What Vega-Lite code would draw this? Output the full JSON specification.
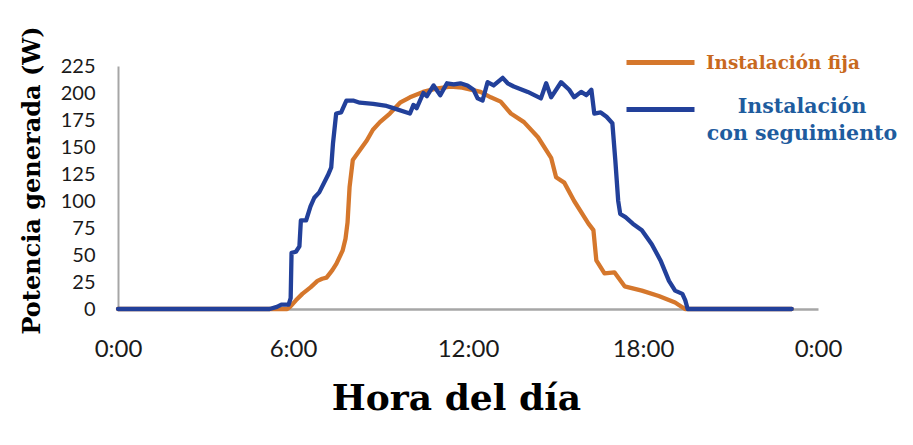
{
  "$schema": "https://vega.github.io/schema/vega-lite/v6.json",
  "width": 700,
  "height": 243,
  "autosize": {"type": "none"},
  "padding": {"left": 118, "top": 66, "right": 95, "bottom": 136},
  "background": "white",
  "config": {"view": {"stroke": null}},
  "data": {"values": [
    {"h": 0, "w": 0, "s": "Instalación fija"},
    {"h": 5.8, "w": 0, "s": "Instalación fija"},
    {"h": 5.9, "w": 2, "s": "Instalación fija"},
    {"h": 6.1, "w": 8, "s": "Instalación fija"},
    {"h": 6.32, "w": 14, "s": "Instalación fija"},
    {"h": 6.6, "w": 20, "s": "Instalación fija"},
    {"h": 6.84, "w": 26, "s": "Instalación fija"},
    {"h": 7.0, "w": 28, "s": "Instalación fija"},
    {"h": 7.15, "w": 29, "s": "Instalación fija"},
    {"h": 7.35, "w": 36, "s": "Instalación fija"},
    {"h": 7.49, "w": 42, "s": "Instalación fija"},
    {"h": 7.7, "w": 54, "s": "Instalación fija"},
    {"h": 7.8, "w": 65, "s": "Instalación fija"},
    {"h": 7.87, "w": 80, "s": "Instalación fija"},
    {"h": 7.94, "w": 113, "s": "Instalación fija"},
    {"h": 8.05, "w": 138, "s": "Instalación fija"},
    {"h": 8.29, "w": 147, "s": "Instalación fija"},
    {"h": 8.53, "w": 156, "s": "Instalación fija"},
    {"h": 8.74, "w": 166, "s": "Instalación fija"},
    {"h": 8.98, "w": 173, "s": "Instalación fija"},
    {"h": 9.32, "w": 181, "s": "Instalación fija"},
    {"h": 9.67, "w": 191, "s": "Instalación fija"},
    {"h": 10.01, "w": 196, "s": "Instalación fija"},
    {"h": 10.46, "w": 201, "s": "Instalación fija"},
    {"h": 10.9, "w": 204, "s": "Instalación fija"},
    {"h": 11.4, "w": 206, "s": "Instalación fija"},
    {"h": 11.8, "w": 205, "s": "Instalación fija"},
    {"h": 12.43, "w": 201, "s": "Instalación fija"},
    {"h": 12.78, "w": 196, "s": "Instalación fija"},
    {"h": 13.12, "w": 192, "s": "Instalación fija"},
    {"h": 13.47, "w": 181, "s": "Instalación fija"},
    {"h": 13.92, "w": 173, "s": "Instalación fija"},
    {"h": 14.4, "w": 159, "s": "Instalación fija"},
    {"h": 14.85, "w": 140, "s": "Instalación fija"},
    {"h": 15.02, "w": 122, "s": "Instalación fija"},
    {"h": 15.3, "w": 117, "s": "Instalación fija"},
    {"h": 15.64, "w": 100, "s": "Instalación fija"},
    {"h": 16.13, "w": 79, "s": "Instalación fija"},
    {"h": 16.3, "w": 73, "s": "Instalación fija"},
    {"h": 16.4, "w": 45, "s": "Instalación fija"},
    {"h": 16.68, "w": 33, "s": "Instalación fija"},
    {"h": 17.02, "w": 34, "s": "Instalación fija"},
    {"h": 17.37, "w": 21, "s": "Instalación fija"},
    {"h": 17.96, "w": 17, "s": "Instalación fija"},
    {"h": 18.54, "w": 12, "s": "Instalación fija"},
    {"h": 19.1, "w": 6, "s": "Instalación fija"},
    {"h": 19.44, "w": 0, "s": "Instalación fija"},
    {"h": 23.1, "w": 0, "s": "Instalación fija"},
    {"h": 0, "w": 0, "s": "Instalación con seguimiento"},
    {"h": 5.2, "w": 0, "s": "Instalación con seguimiento"},
    {"h": 5.45, "w": 2, "s": "Instalación con seguimiento"},
    {"h": 5.6, "w": 4, "s": "Instalación con seguimiento"},
    {"h": 5.85, "w": 4, "s": "Instalación con seguimiento"},
    {"h": 5.92, "w": 10, "s": "Instalación con seguimiento"},
    {"h": 5.95, "w": 52, "s": "Instalación con seguimiento"},
    {"h": 6.1, "w": 53, "s": "Instalación con seguimiento"},
    {"h": 6.22, "w": 58, "s": "Instalación con seguimiento"},
    {"h": 6.27, "w": 82, "s": "Instalación con seguimiento"},
    {"h": 6.45, "w": 82, "s": "Instalación con seguimiento"},
    {"h": 6.6, "w": 95, "s": "Instalación con seguimiento"},
    {"h": 6.73, "w": 103, "s": "Instalación con seguimiento"},
    {"h": 6.9, "w": 108, "s": "Instalación con seguimiento"},
    {"h": 7.2, "w": 124, "s": "Instalación con seguimiento"},
    {"h": 7.31, "w": 131, "s": "Instalación con seguimiento"},
    {"h": 7.37, "w": 153, "s": "Instalación con seguimiento"},
    {"h": 7.48, "w": 181, "s": "Instalación con seguimiento"},
    {"h": 7.65, "w": 182, "s": "Instalación con seguimiento"},
    {"h": 7.83, "w": 193, "s": "Instalación con seguimiento"},
    {"h": 8.06, "w": 193, "s": "Instalación con seguimiento"},
    {"h": 8.29, "w": 191, "s": "Instalación con seguimiento"},
    {"h": 8.75, "w": 190, "s": "Instalación con seguimiento"},
    {"h": 9.21, "w": 188, "s": "Instalación con seguimiento"},
    {"h": 9.44, "w": 186, "s": "Instalación con seguimiento"},
    {"h": 9.9, "w": 182, "s": "Instalación con seguimiento"},
    {"h": 10.01, "w": 181, "s": "Instalación con seguimiento"},
    {"h": 10.13, "w": 189, "s": "Instalación con seguimiento"},
    {"h": 10.24, "w": 186, "s": "Instalación con seguimiento"},
    {"h": 10.47, "w": 200, "s": "Instalación con seguimiento"},
    {"h": 10.59, "w": 197, "s": "Instalación con seguimiento"},
    {"h": 10.82, "w": 207, "s": "Instalación con seguimiento"},
    {"h": 11.05, "w": 198, "s": "Instalación con seguimiento"},
    {"h": 11.28, "w": 209, "s": "Instalación con seguimiento"},
    {"h": 11.51, "w": 208, "s": "Instalación con seguimiento"},
    {"h": 11.74, "w": 209, "s": "Instalación con seguimiento"},
    {"h": 11.98, "w": 207, "s": "Instalación con seguimiento"},
    {"h": 12.19, "w": 203, "s": "Instalación con seguimiento"},
    {"h": 12.33, "w": 195, "s": "Instalación con seguimiento"},
    {"h": 12.5, "w": 193, "s": "Instalación con seguimiento"},
    {"h": 12.67, "w": 210, "s": "Instalación con seguimiento"},
    {"h": 12.88, "w": 207, "s": "Instalación con seguimiento"},
    {"h": 13.19, "w": 214, "s": "Instalación con seguimiento"},
    {"h": 13.36, "w": 209, "s": "Instalación con seguimiento"},
    {"h": 13.57, "w": 206, "s": "Instalación con seguimiento"},
    {"h": 14.05, "w": 201, "s": "Instalación con seguimiento"},
    {"h": 14.5, "w": 195, "s": "Instalación con seguimiento"},
    {"h": 14.68, "w": 209, "s": "Instalación con seguimiento"},
    {"h": 14.85, "w": 196, "s": "Instalación con seguimiento"},
    {"h": 15.19, "w": 210, "s": "Instalación con seguimiento"},
    {"h": 15.47, "w": 203, "s": "Instalación con seguimiento"},
    {"h": 15.64, "w": 196, "s": "Instalación con seguimiento"},
    {"h": 15.88, "w": 201, "s": "Instalación con seguimiento"},
    {"h": 16.06, "w": 198, "s": "Instalación con seguimiento"},
    {"h": 16.23, "w": 203, "s": "Instalación con seguimiento"},
    {"h": 16.33, "w": 181, "s": "Instalación con seguimiento"},
    {"h": 16.55, "w": 182, "s": "Instalación con seguimiento"},
    {"h": 16.75, "w": 178, "s": "Instalación con seguimiento"},
    {"h": 16.95, "w": 172, "s": "Instalación con seguimiento"},
    {"h": 17.05, "w": 138, "s": "Instalación con seguimiento"},
    {"h": 17.15, "w": 100, "s": "Instalación con seguimiento"},
    {"h": 17.22, "w": 88, "s": "Instalación con seguimiento"},
    {"h": 17.4, "w": 85, "s": "Instalación con seguimiento"},
    {"h": 17.65, "w": 79, "s": "Instalación con seguimiento"},
    {"h": 17.96, "w": 73, "s": "Instalación con seguimiento"},
    {"h": 18.3, "w": 60, "s": "Instalación con seguimiento"},
    {"h": 18.6, "w": 45, "s": "Instalación con seguimiento"},
    {"h": 18.89, "w": 26, "s": "Instalación con seguimiento"},
    {"h": 19.1, "w": 17, "s": "Instalación con seguimiento"},
    {"h": 19.35, "w": 14, "s": "Instalación con seguimiento"},
    {"h": 19.45, "w": 8, "s": "Instalación con seguimiento"},
    {"h": 19.53, "w": 0, "s": "Instalación con seguimiento"},
    {"h": 23.1, "w": 0, "s": "Instalación con seguimiento"}
  ]},
  "mark": {"type": "line", "strokeWidth": 4.3, "strokeJoin": "round", "strokeCap": "round"},
  "encoding": {
    "x": {
      "field": "h", "type": "quantitative",
      "scale": {"domain": [0, 24], "nice": false, "zero": false},
      "axis": {
        "title": "Hora del día",
        "titleFont": "DejaVu Serif", "titleFontWeight": "bold", "titleFontSize": 36, "titleColor": "#000000",
        "titleX": 338, "titleY": 100, "titleBaseline": "alphabetic", "titleAlign": "center",
        "values": [0, 6, 12, 18, 24],
        "labelExpr": "datum.value == 24 ? '0:00' : datum.value + ':00'",
        "labelFont": "Lato", "labelFontSize": 24, "labelColor": "#1a1a1a", "labelPadding": 28,
        "labelFlush": false, "labelOverlap": false,
        "ticks": false, "grid": false,
        "domainColor": "#A6A6A6", "domainWidth": 2.5
      }
    },
    "y": {
      "field": "w", "type": "quantitative",
      "scale": {"domain": [0, 225], "nice": false},
      "axis": {
        "title": "Potencia generada (W)",
        "titleFont": "DejaVu Serif", "titleFontWeight": "bold", "titleFontSize": 24, "titleColor": "#000000",
        "titleX": -86, "titleY": 114, "titleAngle": 270, "titleBaseline": "middle", "titleAlign": "center",
        "values": [0, 25, 50, 75, 100, 125, 150, 175, 200, 225],
        "labelFont": "Lato", "labelFontSize": 20, "labelColor": "#1a1a1a", "labelPadding": 23,
        "ticks": false, "grid": false,
        "domainColor": "#A6A6A6", "domainWidth": 2
      }
    },
    "color": {
      "field": "s", "type": "nominal",
      "scale": {"domain": ["Instalación fija", "Instalación con seguimiento"], "range": ["#D5772C", "#22409A"]},
      "legend": {
        "orient": "none", "legendX": 506, "legendY": -40,
        "title": null,
        "symbolType": "stroke", "symbolSize": 4624, "symbolStrokeWidth": 5,
        "labelFont": "DejaVu Serif", "labelFontWeight": "bold", "labelFontSize": 18,
        "labelOffset": 9, "rowPadding": -5, "labelLimit": 400,
        "labelExpr": "datum.label == 'Instalación con seguimiento' ? ['Instalación', 'con seguimiento'] : datum.label",
        "encode": {"labels": {"update": {
          "fill": {"signal": "datum.value == 'Instalación fija' ? '#C8691E' : '#1E5C9E'"},
          "fontSize": {"signal": "datum.value == 'Instalación fija' ? 18.4 : 20.5"},
          "align": {"signal": "datum.value == 'Instalación fija' ? 'left' : 'center'"},
          "dx": {"signal": "datum.value == 'Instalación fija' ? 0 : 96"},
          "dy": {"signal": "datum.value == 'Instalación fija' ? 0 : -3"},
          "lineHeight": {"value": 27}
        }}}
      }
    }
  }
}
